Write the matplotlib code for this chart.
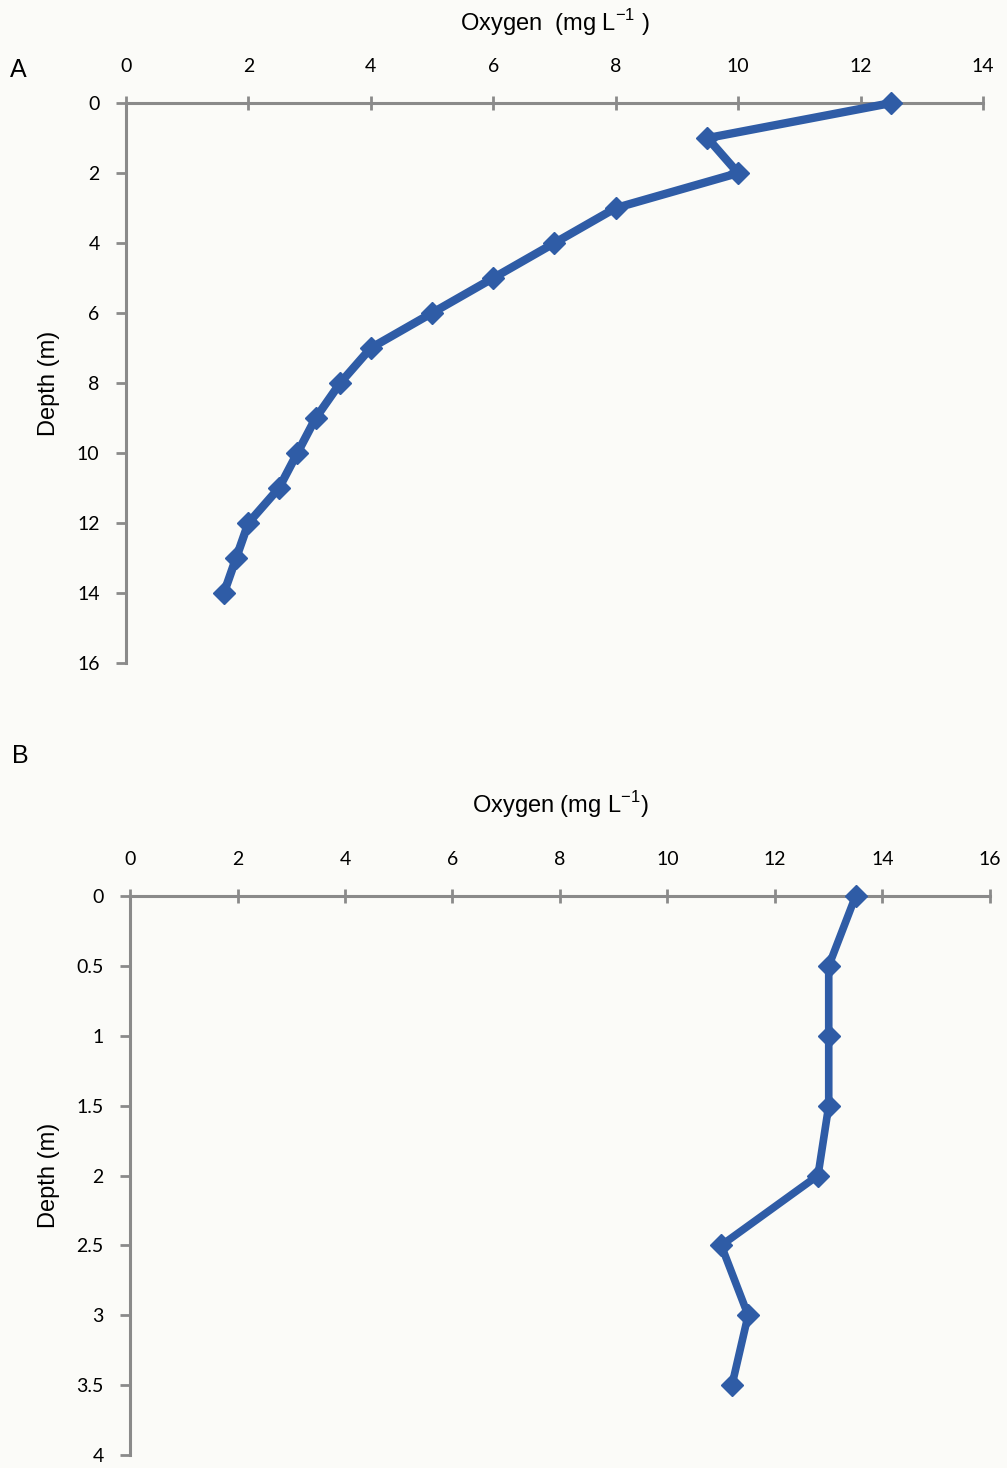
import matplotlib
matplotlib.use("Agg")
import matplotlib.pyplot as plt

# Panel A data
depth_a = [0, 1, 2, 3, 4, 5, 6, 7, 8, 9, 10, 11, 12, 13, 14]
oxygen_a = [12.5, 9.5, 10.0, 8.0, 7.0, 6.0, 5.0, 4.0, 3.5, 3.1, 2.8, 2.5, 2.0, 1.8, 1.6]
xticks_a = [0, 2, 4, 6, 8, 10, 12, 14]
yticks_a = [0, 2, 4, 6, 8, 10, 12, 14, 16]

# Panel B data
depth_b = [0, 0.5, 1.0, 1.5, 2.0, 2.5, 3.0, 3.5]
oxygen_b = [13.5, 13.0, 13.0, 13.0, 12.8, 11.0, 11.5, 11.2]
xticks_b = [0, 2, 4, 6, 8, 10, 12, 14, 16]
yticks_b = [0, 0.5, 1, 1.5, 2, 2.5, 3, 3.5, 4]
yticklabels_b = ["0", "0.5", "1", "1.5", "2", "2.5", "3", "3.5", "4"]

bg = "#fbfbf8"
line_col = "#2f5ca6"
axis_col = "#8a8a8a"
tick_font = "Lato"
label_font = "Liberation Sans"

fig = plt.figure(figsize=(10.07, 14.68), dpi=100, facecolor=bg)

def style(ax, xticks, yticks, ylabels, xlim, ylim):
    ax.set_facecolor(bg)
    ax.set_xlim(*xlim)
    ax.set_ylim(ylim[1], ylim[0])
    for s in ["right", "bottom"]:
        ax.spines[s].set_visible(False)
    for s in ["top", "left"]:
        ax.spines[s].set_color(axis_col)
        ax.spines[s].set_linewidth(2.2)
    ax.xaxis.set_ticks_position("top")
    ax.xaxis.set_label_position("top")
    ax.set_xticks(xticks)
    ax.set_xticklabels([str(t) for t in xticks], fontfamily=tick_font, fontsize=14)
    ax.set_yticks(yticks)
    ax.set_yticklabels(ylabels, fontfamily=tick_font, fontsize=14)
    ax.tick_params(axis="x", direction="inout", length=10, width=2, color=axis_col, pad=15)
    ax.tick_params(axis="y", direction="out", length=7, width=2, color=axis_col, pad=12)
    ax.set_ylabel("Depth (m)", fontfamily=label_font, fontsize=17, labelpad=12)

# Panel A
axA = fig.add_axes([0.1251, 0.5484, 0.8510, 0.3814])
axA.plot(oxygen_a, depth_a, color=line_col, lw=6, marker="D", ms=11, mfc=line_col, mec=line_col, clip_on=False, zorder=3)
style(axA, xticks_a, yticks_a, [str(t) for t in yticks_a], (0, 14), (0, 16))
axA.set_xlabel("Oxygen  (mg L$^{\\mathregular{-1}}$ )", fontfamily=label_font, fontsize=17, labelpad=20)
fig.text(0.010, 0.952, "A", fontfamily=label_font, fontsize=18, va="center", ha="left")

# Panel B
axB = fig.add_axes([0.1291, 0.0089, 0.8540, 0.3807])
axB.plot(oxygen_b, depth_b, color=line_col, lw=5.5, marker="D", ms=11, mfc=line_col, mec=line_col, clip_on=False, zorder=3)
style(axB, xticks_b, yticks_b, yticklabels_b, (0, 16), (0, 4))
axB.set_xlabel("Oxygen (mg L$^{\\mathregular{-1}}$)", fontfamily=label_font, fontsize=17, labelpad=28)
fig.text(0.012, 0.485, "B", fontfamily=label_font, fontsize=18, va="center", ha="left")

fig.savefig("out.png", dpi=100, facecolor=bg)
